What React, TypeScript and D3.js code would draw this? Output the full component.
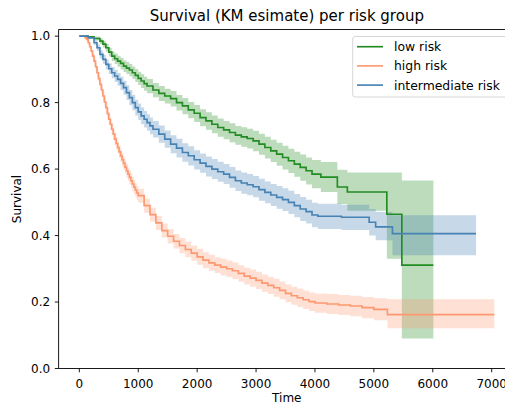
import React from "react";
import * as d3 from "d3";

const lowT = [0,150,250,350,400,450,500,550,600,650,700,750,800,850,900,950,1000,1050,1100,1150,1250,1350,1450,1550,1650,1750,1850,1950,2050,2150,2250,2350,2450,2550,2650,2750,2850,2950,3050,3150,3250,3350,3450,3550,3650,3750,3850,3950,4100,4380,4550,5220,5475,6010];
const lowS = [1.0,0.998,0.993,0.985,0.976,0.965,0.952,0.94,0.932,0.925,0.918,0.91,0.904,0.898,0.89,0.882,0.873,0.865,0.857,0.85,0.838,0.828,0.82,0.812,0.8,0.79,0.778,0.768,0.755,0.745,0.735,0.725,0.718,0.71,0.702,0.697,0.692,0.685,0.675,0.665,0.655,0.645,0.635,0.625,0.615,0.605,0.595,0.585,0.576,0.546,0.531,0.464,0.311,0.311];
const lowLo = [1.0,0.995,0.987,0.976,0.966,0.953,0.939,0.925,0.916,0.908,0.9,0.892,0.886,0.879,0.871,0.862,0.853,0.844,0.836,0.828,0.816,0.805,0.797,0.788,0.776,0.765,0.753,0.742,0.729,0.718,0.708,0.697,0.69,0.681,0.673,0.667,0.662,0.654,0.643,0.632,0.621,0.61,0.599,0.588,0.577,0.565,0.554,0.542,0.531,0.495,0.475,0.33,0.09,0.09];
const lowHi = [1.0,1.0,0.999,0.993,0.986,0.976,0.965,0.954,0.948,0.941,0.935,0.927,0.922,0.916,0.909,0.901,0.893,0.885,0.878,0.871,0.859,0.85,0.842,0.835,0.823,0.814,0.802,0.793,0.78,0.771,0.761,0.752,0.745,0.738,0.73,0.726,0.721,0.715,0.706,0.697,0.688,0.679,0.67,0.661,0.652,0.644,0.635,0.627,0.621,0.598,0.59,0.59,0.566,0.566];

const highT = [0,100,125,150,175,200,225,250,275,300,325,350,375,400,425,450,475,500,525,550,575,600,625,650,675,700,725,750,775,800,825,850,875,900,925,950,975,1000,1100,1200,1300,1400,1500,1600,1700,1800,1900,2000,2100,2200,2300,2400,2500,2600,2700,2800,2900,3000,3100,3200,3300,3400,3500,3600,3700,3800,3900,4000,4200,4400,4600,4800,5000,5230,7045];
const highS = [1.0,0.995,0.99,0.98,0.968,0.955,0.94,0.925,0.908,0.89,0.872,0.855,0.838,0.82,0.802,0.785,0.767,0.75,0.735,0.72,0.705,0.69,0.677,0.665,0.652,0.64,0.628,0.617,0.606,0.595,0.585,0.575,0.565,0.555,0.546,0.537,0.528,0.52,0.49,0.463,0.438,0.415,0.398,0.383,0.37,0.358,0.347,0.336,0.326,0.318,0.311,0.305,0.3,0.294,0.286,0.278,0.272,0.265,0.257,0.25,0.243,0.235,0.226,0.219,0.213,0.207,0.201,0.197,0.194,0.191,0.188,0.183,0.178,0.162,0.162];
const highLo = [1.0,0.992,0.986,0.974,0.961,0.947,0.931,0.915,0.897,0.878,0.86,0.842,0.825,0.806,0.788,0.77,0.751,0.734,0.718,0.703,0.687,0.672,0.658,0.647,0.633,0.621,0.608,0.597,0.586,0.575,0.565,0.554,0.544,0.534,0.525,0.516,0.507,0.499,0.469,0.442,0.417,0.394,0.376,0.361,0.347,0.335,0.324,0.312,0.302,0.294,0.287,0.28,0.275,0.269,0.261,0.253,0.246,0.239,0.231,0.224,0.216,0.208,0.199,0.192,0.185,0.179,0.173,0.168,0.164,0.161,0.157,0.151,0.145,0.121,0.121];
const highHi = [1.0,0.998,0.994,0.986,0.975,0.963,0.949,0.935,0.919,0.902,0.884,0.868,0.852,0.834,0.816,0.8,0.783,0.766,0.752,0.737,0.722,0.708,0.696,0.683,0.671,0.659,0.648,0.637,0.626,0.615,0.605,0.596,0.586,0.576,0.567,0.558,0.549,0.541,0.511,0.484,0.459,0.436,0.42,0.405,0.393,0.381,0.37,0.36,0.35,0.342,0.335,0.33,0.325,0.319,0.311,0.303,0.298,0.291,0.283,0.276,0.27,0.262,0.253,0.246,0.241,0.235,0.229,0.226,0.224,0.221,0.219,0.215,0.211,0.208,0.208];

const midT = [0,150,250,300,350,400,450,500,550,600,650,700,750,800,850,900,950,1000,1050,1100,1150,1200,1250,1350,1450,1550,1650,1750,1850,1950,2050,2150,2250,2350,2450,2550,2650,2750,2850,2950,3050,3150,3250,3350,3450,3550,3650,3750,3850,3950,4050,4450,4920,5030,5315,6735];
const midS = [1.0,0.995,0.98,0.965,0.945,0.93,0.915,0.902,0.89,0.88,0.87,0.858,0.845,0.83,0.815,0.8,0.785,0.772,0.76,0.75,0.74,0.73,0.72,0.705,0.69,0.675,0.663,0.65,0.64,0.628,0.618,0.608,0.6,0.592,0.585,0.575,0.565,0.558,0.553,0.547,0.538,0.53,0.522,0.515,0.508,0.5,0.49,0.48,0.472,0.462,0.458,0.455,0.44,0.426,0.406,0.406];
const midLo = [1.0,0.992,0.973,0.955,0.933,0.917,0.9,0.886,0.873,0.862,0.851,0.838,0.824,0.808,0.792,0.777,0.761,0.748,0.735,0.725,0.715,0.705,0.695,0.679,0.664,0.648,0.635,0.622,0.611,0.599,0.589,0.578,0.57,0.562,0.555,0.544,0.534,0.526,0.521,0.515,0.505,0.497,0.489,0.481,0.474,0.465,0.455,0.444,0.436,0.425,0.42,0.417,0.4,0.386,0.341,0.341];
const midHi = [1.0,0.998,0.987,0.975,0.957,0.944,0.93,0.918,0.907,0.898,0.889,0.878,0.866,0.852,0.838,0.824,0.809,0.797,0.785,0.775,0.765,0.755,0.745,0.731,0.716,0.702,0.691,0.678,0.669,0.657,0.647,0.638,0.63,0.622,0.615,0.606,0.596,0.59,0.585,0.579,0.571,0.563,0.555,0.549,0.542,0.535,0.525,0.516,0.508,0.499,0.496,0.493,0.48,0.471,0.461,0.461];

const xTicks = [0,1000,2000,3000,4000,5000,6000,7000];
const yTicks = [0,0.2,0.4,0.6,0.8,1.0];
const seriesNames = ["low risk","high risk","intermediate risk"];
const seriesColors = ["#228b22","#fd9870","#4682b4"];

const W = 505, H = 404;
const L = 58.6, R = 515, T = 29.5, B = 368.5;
const FONT = "DejaVu Sans, sans-serif";
const FS = 12;

export default function App() {
  const x = d3.scaleLinear().domain([-352, 7396]).range([L, R]);
  const y = d3.scaleLinear().domain([0, 1.02]).range([B, T]);

  const groups = [
    { t: lowT, s: lowS, lo: lowLo, hi: lowHi },
    { t: highT, s: highS, lo: highLo, hi: highHi },
    { t: midT, s: midS, lo: midLo, hi: midHi },
  ];

  const line = d3.line<[number, number]>()
    .x(d => x(d[0])).y(d => y(d[1])).curve(d3.curveStepAfter);
  const area = d3.area<[number, number, number]>()
    .x(d => x(d[0])).y0(d => y(d[1])).y1(d => y(d[2])).curve(d3.curveStepAfter);

  return (
    <svg width={W} height={H} style={{ position: "absolute", left: 0, top: 0, display: "block" }}
      fontFamily={FONT}>
      <rect x={0} y={0} width={W} height={H} fill="#fff" />
      <defs>
        <clipPath id="plotclip"><rect x={L} y={T} width={R - L} height={B - T} /></clipPath>
      </defs>
      <g clipPath="url(#plotclip)">
        {groups.map((g, i) => (
          <path key={"a" + i}
            d={area(g.t.map((t, k) => [t, g.lo[k], g.hi[k]] as [number, number, number])) || ""}
            fill={seriesColors[i]} fillOpacity={0.3} stroke="none" />
        ))}
        {groups.map((g, i) => (
          <path key={"l" + i}
            d={line(g.t.map((t, k) => [t, g.s[k]] as [number, number])) || ""}
            fill="none" stroke={seriesColors[i]} strokeWidth={1.65} />
        ))}
      </g>
      <line x1={L} x2={L} y1={T} y2={B} stroke="#000" strokeWidth={0.9} />
      <line x1={L} x2={R} y1={B} y2={B} stroke="#000" strokeWidth={0.9} />
      <line x1={L} x2={R} y1={T} y2={T} stroke="#000" strokeWidth={0.9} />
      <line x1={R} x2={R} y1={T} y2={B} stroke="#000" strokeWidth={0.9} />
      {xTicks.map(v => (
        <g key={"x" + v}>
          <line x1={x(v)} x2={x(v)} y1={B} y2={B + 3.8} stroke="#000" strokeWidth={0.9} />
          <text x={x(v)} y={387.5} textAnchor="middle" fontSize={FS} fill="#000">{String(v)}</text>
        </g>
      ))}
      {yTicks.map(v => (
        <g key={"y" + v}>
          <line x1={L - 3.8} x2={L} y1={y(v)} y2={y(v)} stroke="#000" strokeWidth={0.9} />
          <text x={L - 8.5} y={y(v)} dy="0.36em" textAnchor="end" fontSize={FS} fill="#000">{v.toFixed(1)}</text>
        </g>
      ))}
      <text x={(L + R) / 2} y={20.5} textAnchor="middle" fontSize={15} fill="#000">Survival (KM esimate) per risk group</text>
      <text x={(L + R) / 2} y={402} textAnchor="middle" fontSize={FS} fill="#000">Time</text>
      <text transform={`translate(21,${(T + B) / 2}) rotate(-90)`} textAnchor="middle" fontSize={FS} fill="#000">Survival</text>
      <g>
        <rect x={352.7} y={36.5} width={156} height={60.5} rx={2.5} fill="#fff" fillOpacity={0.8} stroke="#cccccc" strokeWidth={0.8} />
        {seriesNames.map((n, i) => (
          <g key={n}>
            <line x1={357} x2={383} y1={46.7 + i * 19.2} y2={46.7 + i * 19.2} stroke={seriesColors[i]} strokeWidth={1.65} />
            <text x={394} y={46.7 + i * 19.2} dy="0.36em" fontSize={12.4} fill="#000">{n}</text>
          </g>
        ))}
      </g>
    </svg>
  );
}
